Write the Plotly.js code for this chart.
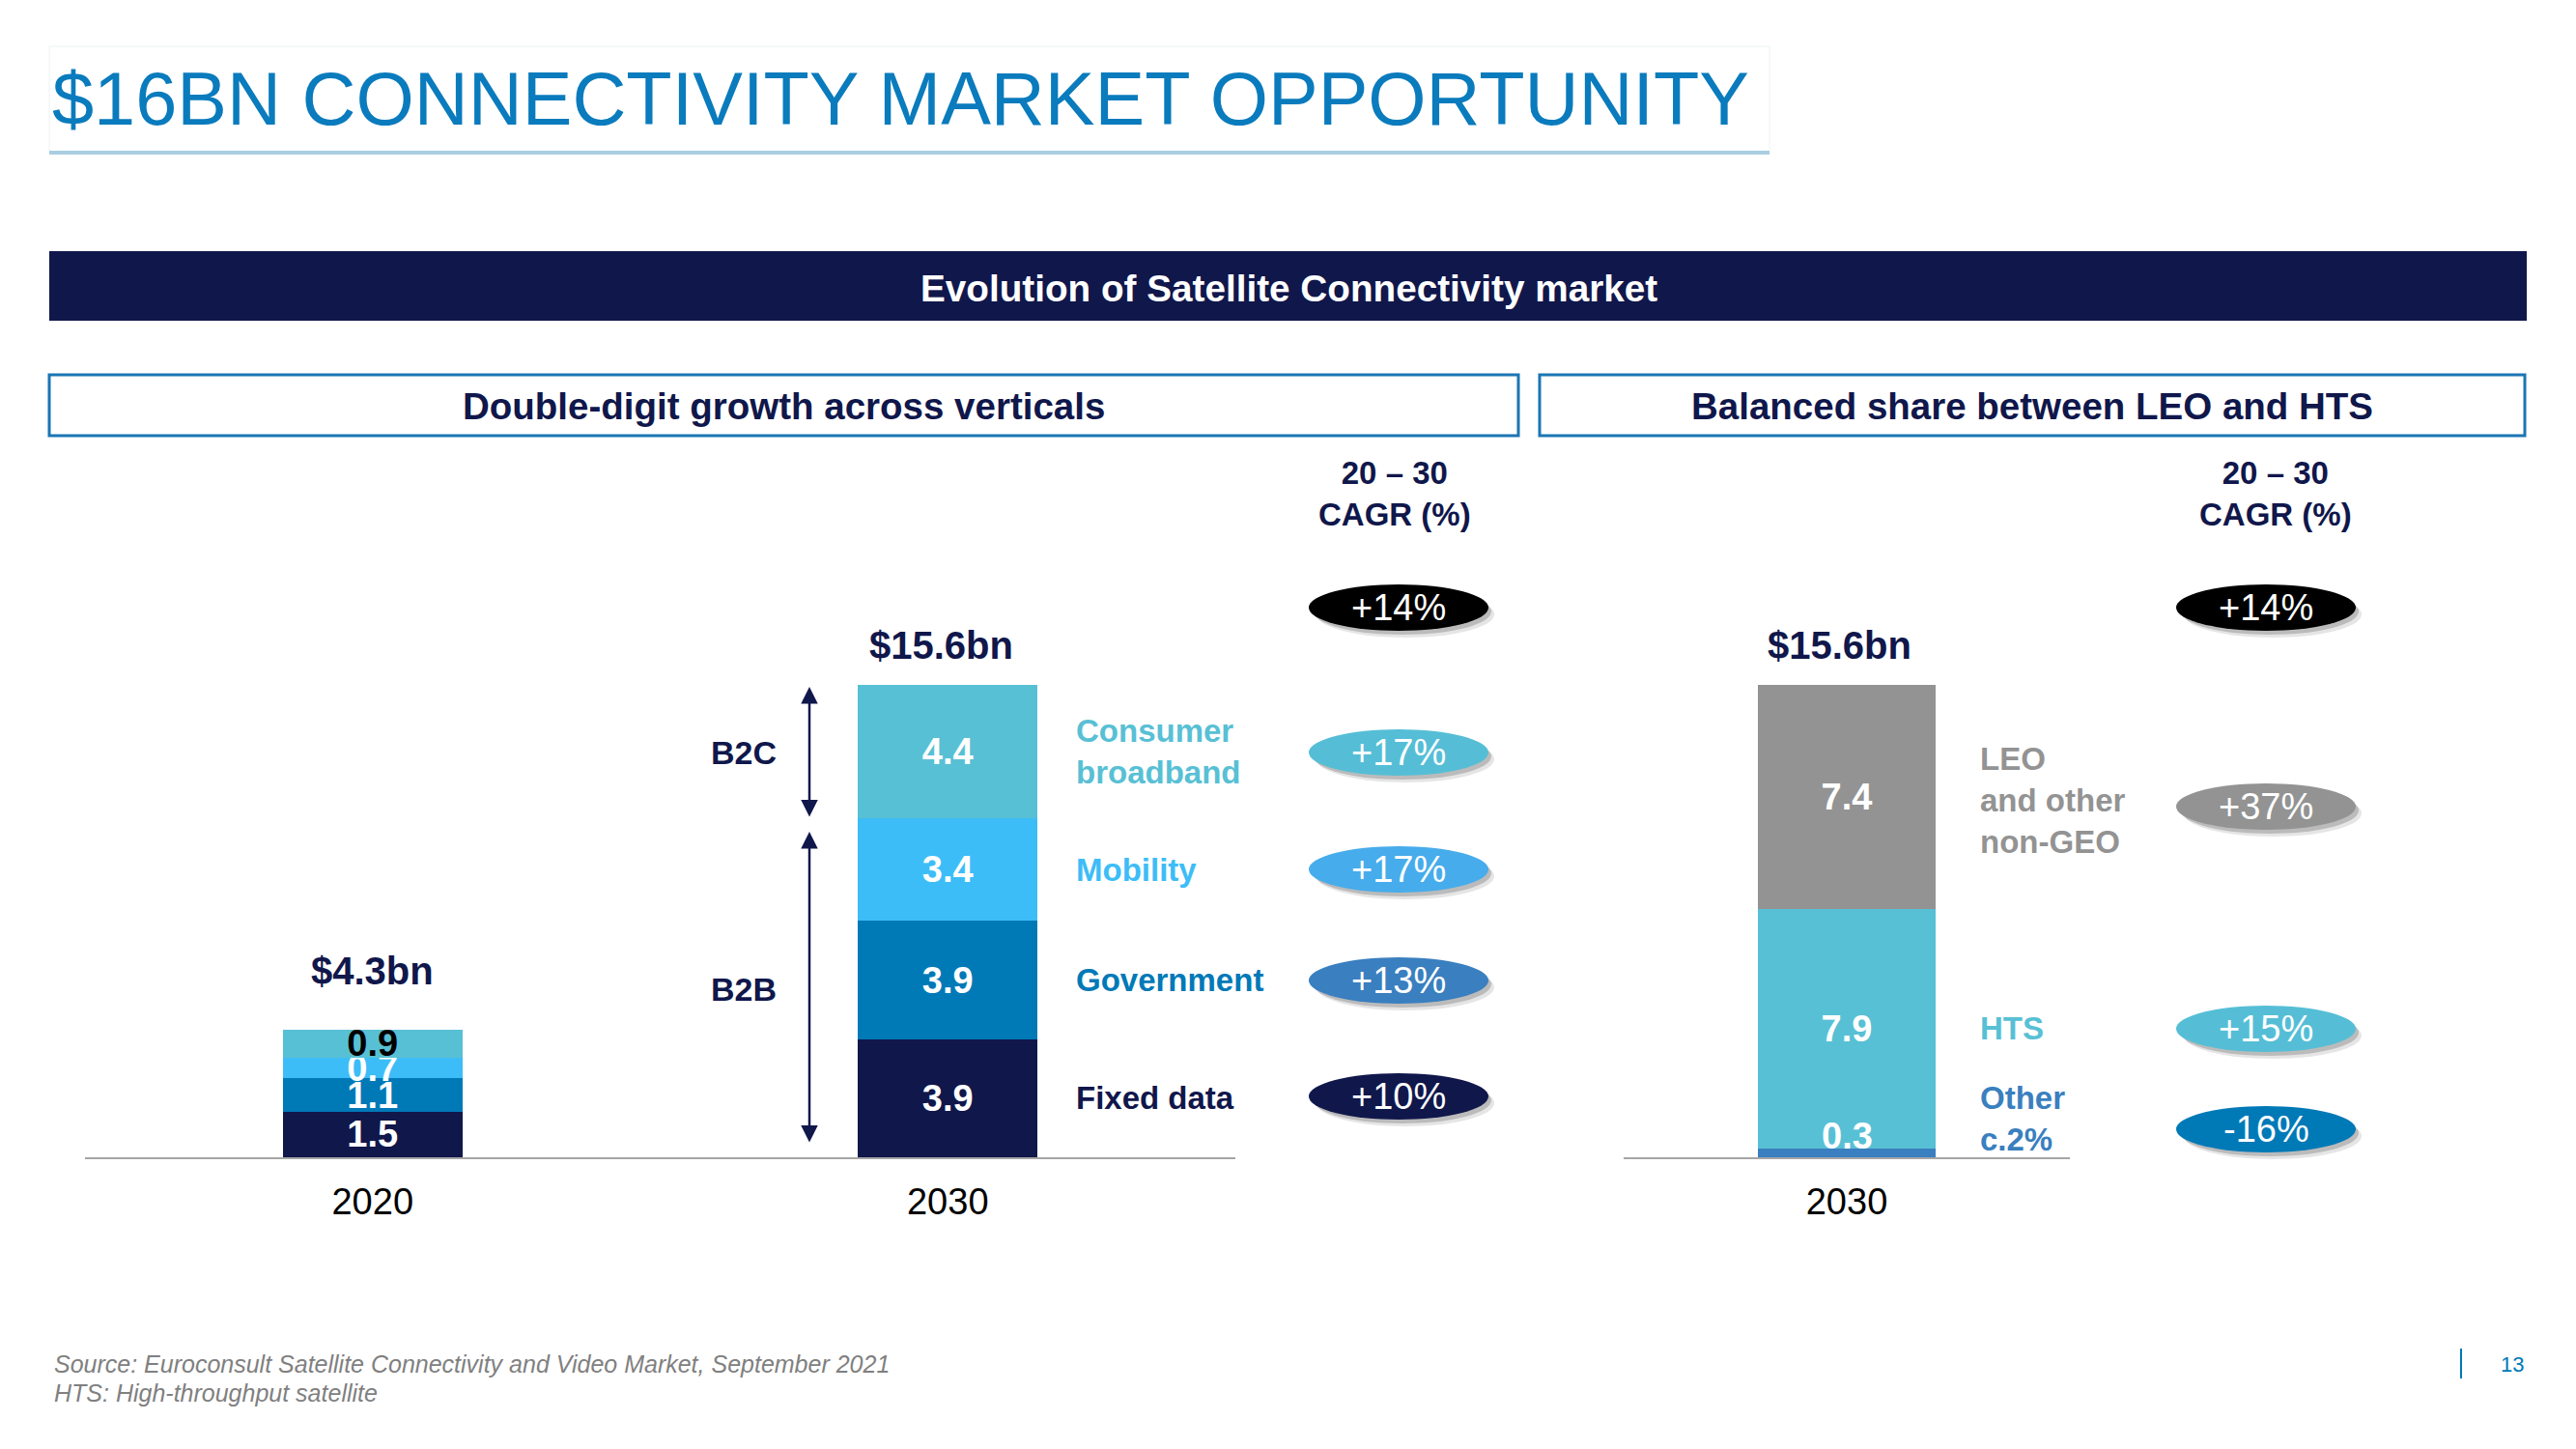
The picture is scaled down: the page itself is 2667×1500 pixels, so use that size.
<!DOCTYPE html>
<html><head><meta charset="utf-8">
<script src="https://cdn.plot.ly/plotly-3.0.1.min.js"></script>
<style>html,body{margin:0;padding:0;background:#fff;} #chart{width:2667px;height:1500px;}</style>
</head><body><div id="chart"></div>
<script>
// ---------------- DATA ----------------
const years = ['2020', '2030'];
const fixedData = [1.5, 3.9];
const government = [1.1, 3.9];
const mobility = [0.7, 3.4];
const consumerBroadband = [0.9, 4.4];
const totalsLeft = ['$4.3bn', '$15.6bn'];
const verticalNames = ['Fixed data', 'Government', 'Mobility', 'Consumer<br>broadband'];
const verticalCagr = ['+10%', '+13%', '+17%', '+17%'];
const totalCagr = '+14%';

const rightYear = ['2030'];
const otherOrbit = [0.3];
const hts = [7.9];
const leo = [7.4];
const totalRight = '$15.6bn';
const orbitNames = ['Other<br>c.2%', 'HTS', 'LEO<br>and other<br>non-GEO'];
const orbitCagr = ['-16%', '+15%', '+37%'];

const pageTitle = '$16BN CONNECTIVITY MARKET OPPORTUNITY';
const bandTitle = 'Evolution of Satellite Connectivity market';
const leftHeader = 'Double-digit growth across verticals';
const rightHeader = 'Balanced share between LEO and HTS';
const cagrHeader = '20 – 30<br>CAGR (%)';
const footnotes = ['Source: Euroconsult Satellite Connectivity and Video Market, September 2021', 'HTS: High-throughput satellite'];
const pageNumber = '13';

// ---------------- STYLE ----------------
const NAVY = '#10174B', GOV = '#0079B7', MOB = '#3DBDF7', CONS = '#58C0D5';
const GREY = '#939393', OTHER = '#3A7FBF', TITLEBLUE = '#0A7BBD';
const FONT = 'Liberation Sans, Arial, sans-serif';
const W = 2667, H = 1500;
const fx = p => p / W, fy = p => 1 - p / H;
const YMAX = 22;
const yDom = [fy(1198), fy(1198 - YMAX * 31.35)];

const fmt = a => a.map(v => v.toFixed(1));
const bold = s => '<b>' + s + '</b>';

function barTrace(vals, color, xa, ya, x, width, txtColors, showText) {
  return {
    type: 'bar', x: x, y: vals, xaxis: xa, yaxis: ya, width: width,
    marker: { color: color, line: { width: 0 } },
    text: showText ? fmt(vals).map(bold) : null,
    textposition: showText ? 'inside' : 'none',
    insidetextanchor: 'middle', constraintext: 'none',
    textfont: { family: FONT, size: 38, color: txtColors },
    hoverinfo: 'skip', showlegend: false
  };
}

const traces = [
  barTrace(fixedData, NAVY, 'x', 'y', years, 0.313, ['#fff', '#fff'], true),
  barTrace(government, GOV, 'x', 'y', years, 0.313, ['#fff', '#fff'], true),
  barTrace(mobility, MOB, 'x', 'y', years, 0.313, ['#fff', '#fff'], true),
  barTrace(consumerBroadband, CONS, 'x', 'y', years, 0.313, ['#000', '#fff'], true),
  barTrace(otherOrbit, OTHER, 'x2', 'y2', rightYear, 0.4, ['#fff'], false),
  barTrace(hts, CONS, 'x2', 'y2', rightYear, 0.4, ['#fff'], true),
  barTrace(leo, GREY, 'x2', 'y2', rightYear, 0.4, ['#fff'], true)
];

const shapes = [];
const annotations = [];
function note(o) {
  annotations.push(Object.assign({ xanchor: 'center', yanchor: 'middle', showarrow: false }, o));
}

// Title box
shapes.push({ type: 'rect', xref: 'paper', yref: 'paper', x0: fx(51), x1: fx(1832), y0: fy(158), y1: fy(48), line: { color: '#EDF2F5', width: 1 }, fillcolor: '#fff', layer: 'below' });
shapes.push({ type: 'line', xref: 'paper', yref: 'paper', x0: fx(51), x1: fx(1832), y0: fy(158), y1: fy(158), line: { color: '#A9CEE2', width: 4 } });
note({ xref: 'paper', yref: 'paper', x: fx(52), y: fy(102), xanchor: 'left', text: pageTitle, font: { family: FONT, size: 77.5, color: TITLEBLUE } });

// Navy band
shapes.push({ type: 'rect', xref: 'paper', yref: 'paper', x0: fx(51), x1: fx(2616), y0: fy(332), y1: fy(260), line: { width: 0 }, fillcolor: NAVY, layer: 'below' });
note({ xref: 'paper', yref: 'paper', x: fx(1334), y: fy(298), text: bold(bandTitle), font: { family: FONT, size: 38.7, color: '#fff' } });

// Sub headers
[[51, 1572, 811, leftHeader], [1594, 2614, 2104, rightHeader]].forEach(h => {
  shapes.push({ type: 'rect', xref: 'paper', yref: 'paper', x0: fx(h[0]), x1: fx(h[1]), y0: fy(451), y1: fy(388), line: { color: '#1B75B4', width: 3 }, fillcolor: 'rgba(0,0,0,0)' });
  note({ xref: 'paper', yref: 'paper', x: fx(h[2]), y: fy(420), text: bold(h[3]), font: { family: FONT, size: 38.5, color: NAVY } });
});

// CAGR headers
[1444, 2356].forEach(cx => note({ xref: 'paper', yref: 'paper', x: fx(cx), y: fy(511), text: bold(cagrHeader), font: { family: FONT, size: 33, color: NAVY } }));

// Totals above bars
note({ xref: 'x', yref: 'y', x: 0, y: fixedData[0] + government[0] + mobility[0] + consumerBroadband[0], yanchor: 'bottom', yshift: 37, text: bold(totalsLeft[0]), font: { family: FONT, size: 40, color: NAVY } });
note({ xref: 'x', yref: 'y', x: 1, y: fixedData[1] + government[1] + mobility[1] + consumerBroadband[1], yanchor: 'bottom', yshift: 17, xshift: -7, text: bold(totalsLeft[1]), font: { family: FONT, size: 40, color: NAVY } });
note({ xref: 'x2', yref: 'y2', x: 0, y: otherOrbit[0] + hts[0] + leo[0], yanchor: 'bottom', yshift: 17, xshift: -8, text: bold(totalRight), font: { family: FONT, size: 40, color: NAVY } });

// "0.3" label above thin segment
note({ xref: 'x2', yref: 'y2', x: 0, y: otherOrbit[0], yanchor: 'bottom', yshift: -10, text: bold(otherOrbit[0].toFixed(1)), font: { family: FONT, size: 38, color: '#fff' } });

// Vertical category labels (left chart)
const leftSeries = [fixedData, government, mobility, consumerBroadband];
const leftColors = [NAVY, GOV, MOB, CONS];
let cum = 0;
leftSeries.forEach((s, i) => {
  const mid = cum + s[1] / 2; cum += s[1];
  note({ xref: 'paper', yref: 'y', x: fx(1112), y: mid, xanchor: 'left', align: 'left', text: bold(verticalNames[i]), font: { family: FONT, size: 33, color: leftColors[i] } });
});

// Orbit labels (right chart)
note({ xref: 'paper', yref: 'y2', x: fx(2048), y: 0, yanchor: 'bottom', yshift: -2, xanchor: 'left', align: 'left', text: bold(orbitNames[0]), font: { family: FONT, size: 33, color: OTHER } });
note({ xref: 'paper', yref: 'y2', x: fx(2048), y: otherOrbit[0] + hts[0] / 2, xanchor: 'left', align: 'left', text: bold(orbitNames[1]), font: { family: FONT, size: 33, color: CONS } });
note({ xref: 'paper', yref: 'y2', x: fx(2048), y: otherOrbit[0] + hts[0] + leo[0] / 2, yshift: -4, xanchor: 'left', align: 'left', text: bold(orbitNames[2]), font: { family: FONT, size: 33, color: GREY } });

// B2C / B2B
note({ xref: 'paper', yref: 'paper', x: fx(770), y: fy(779), text: bold('B2C'), font: { family: FONT, size: 34, color: NAVY } });
note({ xref: 'paper', yref: 'paper', x: fx(770), y: fy(1024), text: bold('B2B'), font: { family: FONT, size: 34, color: NAVY } });
[[711, 847], [861, 1184]].forEach(a => {
  annotations.push({ xref: 'paper', yref: 'paper', x: fx(838), y: fy(a[0]), ax: 0, ay: a[1] - a[0], text: '', showarrow: true, arrowside: 'end+start', arrowhead: 2, startarrowhead: 2, arrowsize: 1.4, startarrowsize: 1.4, arrowwidth: 2.5, arrowcolor: NAVY, standoff: 0, startstandoff: 0 });
});

// CAGR ellipses
function pill(cx, cy, color, txt) {
  shapes.push({ type: 'circle', xref: 'paper', yref: 'paper', x0: fx(cx - 92 + 7), x1: fx(cx + 92 + 7), y0: fy(cy + 24 + 7), y1: fy(cy - 24 + 7), line: { width: 0 }, fillcolor: 'rgba(0,0,0,0.10)' });
  shapes.push({ type: 'circle', xref: 'paper', yref: 'paper', x0: fx(cx - 92 + 4), x1: fx(cx + 92 + 4), y0: fy(cy + 24 + 4), y1: fy(cy - 24 + 4), line: { width: 0 }, fillcolor: 'rgba(0,0,0,0.18)' });
  shapes.push({ type: 'circle', xref: 'paper', yref: 'paper', x0: fx(cx - 93), x1: fx(cx + 93), y0: fy(cy + 24), y1: fy(cy - 24), line: { width: 0 }, fillcolor: color });
  note({ xref: 'paper', yref: 'paper', x: fx(cx), y: fy(cy), text: txt, font: { family: FONT, size: 38, color: '#fff' } });
}
pill(1448, 629, '#000000', totalCagr);
const leftPillY = [1135, 1015, 900, 779];
const leftPillC = [NAVY, '#3A7FBF', '#47ACEB', '#55BED6'];
verticalCagr.forEach((c, i) => pill(1448, leftPillY[i], leftPillC[i], c));
pill(2346, 629, '#000000', totalCagr);
const rightPillY = [1169, 1065, 835];
const rightPillC = [GOV, '#55BED6', GREY];
orbitCagr.forEach((c, i) => pill(2346, rightPillY[i], rightPillC[i], c));

// Footer
footnotes.forEach((t, i) => note({ xref: 'paper', yref: 'paper', x: fx(54), y: fy(1412 + i * 30), xanchor: 'left', text: '<i>' + t + '</i>', font: { family: FONT, size: 25, color: '#808080' } }));
shapes.push({ type: 'line', xref: 'paper', yref: 'paper', x0: fx(2548), x1: fx(2548), y0: fy(1396), y1: fy(1427), line: { color: GOV, width: 2 } });
note({ xref: 'paper', yref: 'paper', x: fx(2601), y: fy(1412), text: pageNumber, font: { family: FONT, size: 22, color: GOV } });

const axisCommon = { type: 'category', showgrid: false, zeroline: false, showline: true, linecolor: '#A6A6A6', linewidth: 2, ticks: '', tickfont: { family: FONT, size: 38, color: '#000' }, ticklabelstandoff: 11, fixedrange: true };
const yCommon = { range: [0, YMAX], domain: yDom, showgrid: false, zeroline: false, showline: false, showticklabels: false, ticks: '', fixedrange: true };

const layout = {
  width: W, height: H, margin: { l: 0, r: 0, t: 0, b: 0 },
  paper_bgcolor: '#fff', plot_bgcolor: 'rgba(0,0,0,0)',
  barmode: 'stack', showlegend: false,
  font: { family: FONT },
  uniformtext: { mode: 'show', minsize: 38 },
  xaxis: Object.assign({}, axisCommon, { domain: [fx(88), fx(1279)], range: [-0.5, 1.5], anchor: 'y' }),
  yaxis: Object.assign({}, yCommon, { anchor: 'x' }),
  xaxis2: Object.assign({}, axisCommon, { domain: [fx(1681), fx(2143)], range: [-0.5, 0.5], anchor: 'y2' }),
  yaxis2: Object.assign({}, yCommon, { anchor: 'x2' }),
  shapes: shapes, annotations: annotations
};

Plotly.newPlot('chart', traces, layout, { staticPlot: true, displayModeBar: false });
</script>
</body></html>
